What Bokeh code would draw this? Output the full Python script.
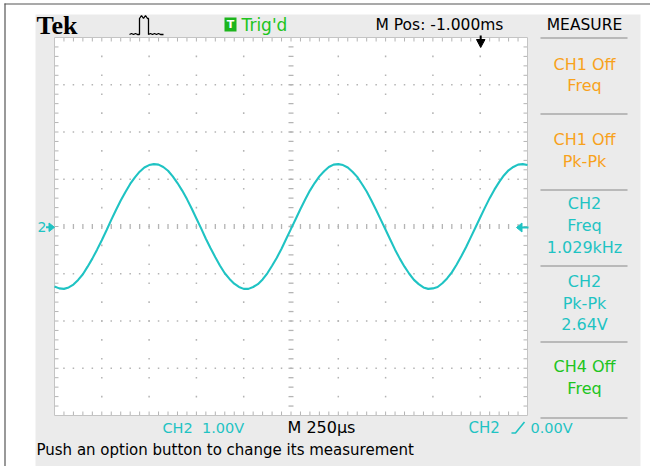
from bokeh.plotting import figure
from bokeh.models import Range1d
from bokeh.core.properties import value
from bokeh.embed import file_html
from bokeh.resources import INLINE

# ---------------- data ----------------
time_us = [-2250, -2225, -2200, -2175, -2150, -2125, -2100, -2075, -2050, -2025,
           -2000, -1975, -1950, -1925, -1900, -1875, -1850, -1825, -1800, -1775,
           -1750, -1725, -1700, -1675, -1650, -1625, -1600, -1575, -1550, -1525,
           -1500, -1475, -1450, -1425, -1400, -1375, -1350, -1325, -1300, -1275,
           -1250, -1225, -1200, -1175, -1150, -1125, -1100, -1075, -1050, -1025,
           -1000, -975, -950, -925, -900, -875, -850, -825, -800, -775,
           -750, -725, -700, -675, -650, -625, -600, -575, -550, -525,
           -500, -475, -450, -425, -400, -375, -350, -325, -300, -275,
           -250, -225, -200, -175, -150, -125, -100, -75, -50, -25,
           0, 25, 50, 75, 100, 125, 150, 175, 200, 225,
           250]
ch2_volts = [-1.27, -1.31, -1.32, -1.29, -1.23, -1.13, -1.01, -0.85, -0.68, -0.49,
             -0.29, -0.08, 0.14, 0.35, 0.55, 0.73, 0.90, 1.04, 1.16, 1.25,
             1.30, 1.32, 1.31, 1.26, 1.18, 1.06, 0.92, 0.76, 0.58, 0.38,
             0.17, -0.04, -0.26, -0.46, -0.65, -0.83, -0.99, -1.11, -1.21, -1.28,
             -1.32, -1.32, -1.28, -1.22, -1.12, -0.99, -0.83, -0.66, -0.47, -0.26,
             -0.05, 0.16, 0.37, 0.57, 0.76, 0.92, 1.06, 1.17, 1.26, 1.31,
             1.32, 1.30, 1.25, 1.16, 1.05, 0.90, 0.74, 0.55, 0.35, 0.14,
             -0.07, -0.28, -0.49, -0.68, -0.85, -1.00, -1.13, -1.22, -1.29, -1.32,
             -1.31, -1.28, -1.20, -1.10, -0.97, -0.81, -0.63, -0.44, -0.23, -0.02,
             0.19, 0.40, 0.60, 0.78, 0.94, 1.08, 1.19, 1.26, 1.31, 1.32,
             1.30]
volts_per_div = 1.00
time_per_div_us = 250
mpos_us = -1000
h_divs = 10
v_divs = 8

header_brand = "Tek"
trig_status = "Trig'd"
mpos_label = "M Pos: -1.000ms"
measure_title = "MEASURE"
measure_blocks = [["CH1 Off", "Freq"],
                  ["CH1 Off", "Pk-Pk"],
                  ["CH2", "Freq", "1.029kHz"],
                  ["CH2", "Pk-Pk", "2.64V"],
                  ["CH4 Off", "Freq"]]
measure_kinds = ["ch1", "ch1", "ch2", "ch2", "ch4"]
ch_scale_label = "CH2\u00a0 1.00V"
timebase_label = "M 250\u00b5s"
trig_src_label = "CH2"
trig_level_label = "0.00V"
help_text = "Push an option button to change its measurement"

# ---------------- styles ----------------
CYAN = "#1fc3c3"
ORANGE = "#f8a21c"
GREEN = "#20c420"
PANEL = "#ebebeb"
GRID = "#b4b4b4"
FONT = value("DejaVu Sans")
kind_color = {"ch1": ORANGE, "ch2": CYAN, "ch4": GREEN}

W, H = 650, 466


def B(baseline, size):
    # visual baseline -> anchor used by the renderer
    return baseline - 0.38 * size


p = figure(width=W, height=H, x_range=Range1d(0, W), y_range=Range1d(H, 0),
           output_backend="svg", toolbar_location=None,
           x_axis_location=None, y_axis_location=None, min_border=0)
p.min_border_left = p.min_border_right = p.min_border_top = p.min_border_bottom = 0
p.grid.visible = False
p.outline_line_color = None
p.background_fill_color = "white"
p.border_fill_color = "white"

# graticule placement (pixels) and data scales
GL, GR, GT, GB = 54, 527, 37, 415
T0 = mpos_us - h_divs / 2 * time_per_div_us
T1 = mpos_us + h_divs / 2 * time_per_div_us
V0 = -v_divs / 2 * volts_per_div
V1 = v_divs / 2 * volts_per_div
upx = (T1 - T0) / (GR - GL)
vpx = (V1 - V0) / (GB - GT)
p.extra_x_ranges = {"t": Range1d(T0 - GL * upx, T1 + (W - GR) * upx)}
p.extra_y_ranges = {"v": Range1d(V0 - (H - GB) * vpx, V1 + GT * vpx)}
TV = dict(x_range_name="t", y_range_name="v")

# background panel and outer frame
p.quad(left=[35], right=[640], top=[14], bottom=[466],
       fill_color=PANEL, line_color=None)
p.line([4, W], [3.5, 3.5], line_color="#555555", line_width=1.2)
p.line([4.5, 4.5], [3, H], line_color="#555555", line_width=1.2)

# graticule
p.quad(left=[T0], right=[T1], top=[V1], bottom=[V0], fill_color="white",
       line_color=None, **TV)

dx, dy = [], []
for j in range(1, v_divs):
    if j == v_divs // 2:
        continue
    for k in range(1, h_divs * 5):
        dx.append(T0 + k * time_per_div_us / 5)
        dy.append(V0 + j * volts_per_div)
for i in range(1, h_divs):
    if i == h_divs // 2:
        continue
    for k in range(1, v_divs * 5 // 2):
        dx.append(T0 + i * time_per_div_us)
        dy.append(V0 + k * 0.4 * volts_per_div)
p.rect(dx, dy, width=1.5, height=1.6, width_units="screen", height_units="screen",
       fill_color=GRID, line_color=None, **TV)

# centre axes with minor marks
cx = [T0 + k * time_per_div_us / 5 for k in range(1, h_divs * 5)]
p.rect(cx, [0] * len(cx), width=1.3, height=5, width_units="screen",
       height_units="screen", fill_color=GRID, line_color=None, **TV)
cy = [V0 + k * volts_per_div / 5 for k in range(1, v_divs * 5)]
p.rect([mpos_us] * len(cy), cy, width=5, height=1.3, width_units="screen",
       height_units="screen", fill_color=GRID, line_color=None, **TV)

# edge ticks
tl = 4
p.segment(x0=cx, y0=[V1] * len(cx), x1=cx, y1=[V1 - tl * vpx] * len(cx),
          line_color=GRID, line_width=1, **TV)
p.segment(x0=cx, y0=[V0] * len(cx), x1=cx, y1=[V0 + tl * vpx] * len(cx),
          line_color=GRID, line_width=1, **TV)
p.segment(x0=[T0] * len(cy), y0=cy, x1=[T0 + tl * upx] * len(cy), y1=cy,
          line_color=GRID, line_width=1, **TV)
p.segment(x0=[T1] * len(cy), y0=cy, x1=[T1 - tl * upx] * len(cy), y1=cy,
          line_color=GRID, line_width=1, **TV)
p.quad(left=[T0], right=[T1], top=[V1], bottom=[V0], fill_color=None,
       line_color="#c4c4c4", line_width=1, **TV)

# waveform
p.line(time_us, ch2_volts, line_color=CYAN, line_width=2.1, **TV)

# ---------------- header ----------------
p.text([36], [B(35, 26)], text=[header_brand], text_font=value("Liberation Serif"),
       text_font_style="bold", text_font_size="26px", text_color="black",
       text_baseline="alphabetic")
pulse_x = [129, 131, 133, 135, 137, 139, 139, 141, 143, 145, 147, 148, 148, 150,
           152, 154, 156, 158, 160, 163]
pulse_y = [34, 33, 34, 33, 34, 34, 18, 15, 18, 15, 18, 18, 34, 33, 34, 33, 34, 33,
           34, 34]
p.line(pulse_x, pulse_y, line_color="black", line_width=1.3)
p.quad(left=[224], right=[236], top=[17], bottom=[31],
       fill_color="#1cb51c", line_color=None)
p.text([230], [B(28.5, 11)], text=["T"], text_font=FONT, text_font_style="bold",
       text_font_size="11px", text_color="white", text_align="center",
       text_baseline="alphabetic")
p.text([241], [B(30.5, 17)], text=[trig_status], text_font=FONT,
       text_font_size="17px", text_color=GREEN, text_baseline="alphabetic")
p.text([375], [B(30.5, 15.5)], text=[mpos_label], text_font=FONT,
       text_font_size="15.5px", text_color="black", text_baseline="alphabetic")
p.text([584], [B(30.5, 15.5)], text=[measure_title], text_font=FONT,
       text_font_size="15.5px", text_color="black", text_align="center",
       text_baseline="alphabetic")
# trigger position marker
p.patch([476, 484.5, 480.2], [39, 39, 47], fill_color="black", line_color="black")
p.line([480.2, 480.2], [35, 40], line_color="black", line_width=2)

# ---------------- measure panel ----------------
sep_y = [37, 113, 189, 265, 341, 417]
for sy in sep_y:
    p.line([540, 627], [sy + 0.5, sy + 0.5], line_color="#a8a8a8", line_width=1.5)
block_baselines = [[70.5, 91.5], [145, 167], [209, 231.5, 253], [287, 309, 330],
                   [372, 394]]
for lines, kind, bls in zip(measure_blocks, measure_kinds, block_baselines):
    p.text([584] * len(lines), [B(b, 16) for b in bls], text=lines, text_font=FONT,
           text_font_size="16px", text_color=kind_color[kind], text_align="center",
           text_baseline="alphabetic")

# ---------------- channel markers ----------------
p.text([37], [B(231.5, 14)], text=["2"], text_font=FONT, text_font_size="14px",
       text_color=CYAN, text_baseline="alphabetic")
p.patch([48.5, 48.5, 54], [222.5, 231, 226.8], fill_color=CYAN, line_color=CYAN)
p.line([45.5, 49], [226.8, 226.8], line_color=CYAN, line_width=2)
p.patch([516, 521.5, 521.5], [227, 222.5, 231.5], fill_color=CYAN, line_color=CYAN)
p.line([521, 528], [227, 227], line_color=CYAN, line_width=2)

# ---------------- bottom status ----------------
p.text([162], [B(433.5, 14.5)], text=[ch_scale_label], text_font=FONT,
       text_font_size="14.5px", text_color=CYAN, text_baseline="alphabetic")
p.text([287], [B(433.5, 16)], text=[timebase_label], text_font=FONT,
       text_font_size="16px", text_color="black", text_baseline="alphabetic")
p.text([468], [B(433.5, 15)], text=[trig_src_label], text_font=FONT,
       text_font_size="15px", text_color=CYAN, text_baseline="alphabetic")
p.line([511, 515, 524], [432.5, 432.5, 421.5], line_color=CYAN, line_width=1.6)
p.text([530], [B(433.5, 14.5)], text=[trig_level_label], text_font=FONT,
       text_font_size="14.5px", text_color=CYAN, text_baseline="alphabetic")
p.text([36], [B(455, 15)], text=[help_text], text_font=FONT,
       text_font_size="15px", text_color="black", text_baseline="alphabetic")

open("out.html", "w").write(file_html(p, INLINE))
